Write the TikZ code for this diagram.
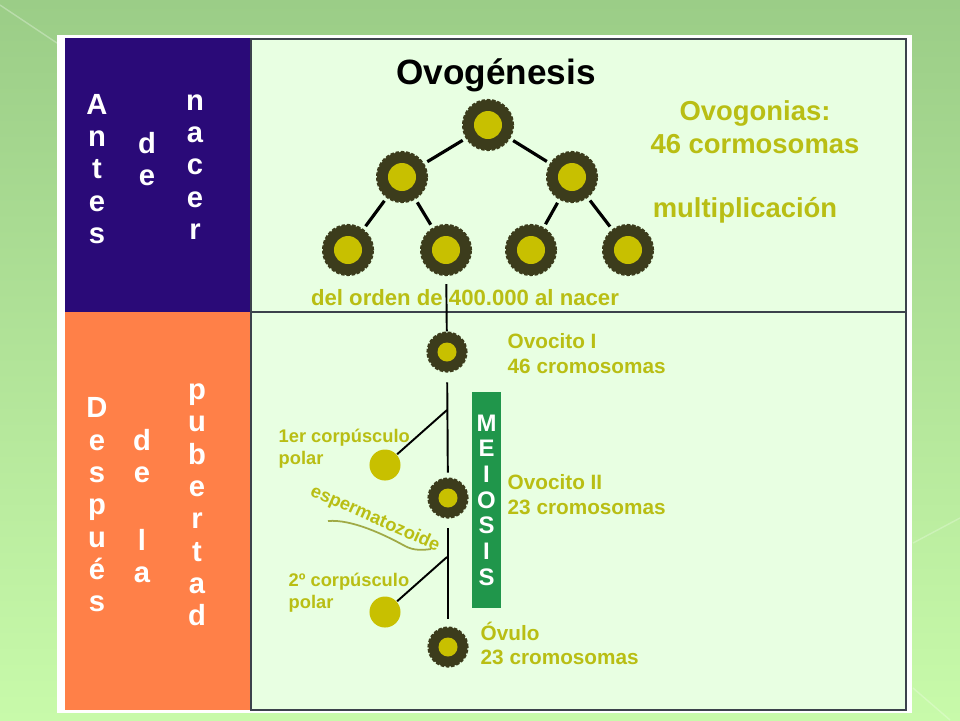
\documentclass[tikz,border=0pt]{standalone}
\usepackage{fontspec}
\setmainfont{Liberation Sans}
\usepackage{xcolor}
\usepackage{tikz}
\usetikzlibrary{positioning,calc}

\definecolor{fondoA}{RGB}{155,205,135}
\definecolor{fondoB}{RGB}{200,250,170}
\definecolor{azulP}{RGB}{42,10,120}
\definecolor{naranjaP}{RGB}{255,128,72}
\definecolor{panelC}{RGB}{232,255,226}
\definecolor{borde}{RGB}{60,66,76}
\definecolor{celosc}{RGB}{60,60,28}
\definecolor{celamar}{RGB}{200,192,0}
\definecolor{textoA}{RGB}{185,190,20}
\definecolor{verdeM}{RGB}{32,150,75}
\definecolor{colaC}{RGB}{160,170,70}

\begin{document}
\begin{tikzpicture}[x=0.01cm, y=-0.01cm,
    % ---------- estilos ----------
    letras/.style={font=\fontsize{8.3}{9.2}\selectfont\bfseries, text=white,
      align=center, inner sep=0pt},
    titulo/.style={font=\fontsize{10}{12}\selectfont\bfseries, text=black, inner sep=0pt},
    etq/.style={font=\fontsize{7.8}{9.4}\selectfont\bfseries, text=textoA,
      align=center, inner sep=0pt},
    etqm/.style={font=\fontsize{6.3}{7.5}\selectfont\bfseries, text=textoA, inner sep=0pt},
    etqo/.style={font=\fontsize{5.9}{7}\selectfont\bfseries, text=textoA,
      align=left, anchor=west, inner sep=0pt},
    etqc/.style={font=\fontsize{5.2}{6.3}\selectfont\bfseries, text=textoA,
      align=left, anchor=west, inner sep=0pt},
    esperma/.style={font=\fontsize{5.2}{6}\selectfont\bfseries, text=textoA, inner sep=0pt},
    celula/.style={circle, minimum size=5mm, inner sep=0pt, fill=celosc,
      draw=celosc, line width=0.6pt, dash pattern=on 1pt off 0.5pt,
      path picture={\fill[celamar] (path picture bounding box.center) circle (1.4mm);}},
    celulap/.style={celula, minimum size=3.9mm,
      path picture={\fill[celamar] (path picture bounding box.center) circle (0.95mm);}},
    corpus/.style={circle, minimum size=3.1mm, inner sep=0pt, fill=celamar},
    meiosis/.style={fill=verdeM, minimum width=2.9mm, minimum height=21.6mm,
      inner sep=0pt, align=center, text=white,
      font=\fontsize{6.8}{7.3}\selectfont\bfseries},
    rama/.style={line width=0.9pt, shorten <=1pt, shorten >=1pt},
    tronco/.style={line width=0.55pt},
    cola/.style={draw=colaC, line width=0.5pt}
]

\useasboundingbox (0,0) rectangle (960,720);

% ====== Fondo ======
\shade[top color=fondoA, bottom color=fondoB] (0,0) rectangle (960,720);
\draw[white, opacity=0.3, line width=0.4pt] (0,5) -- (57,43);
\draw[white, opacity=0.25, line width=0.4pt] (913,543) -- (960,518);
\draw[white, opacity=0.25, line width=0.4pt] (913,688) -- (950,720);

% ====== Marco y paneles ======
\fill[white] (57,35) rectangle (912,713);
\fill[panelC] (251,39) rectangle (906,710);
\fill[azulP] (65,38) rectangle (251,312);
\fill[naranjaP] (65,312) rectangle (251,710);
\draw[borde, line width=0.7pt] (251,39) rectangle (906,710);
\draw[borde, line width=0.7pt] (251,312) -- (906,312);

% ====== Columnas de letras ======
\node[letras] (antes) at (97,169) {A\\n\\t\\e\\s};
\node[letras] (deA) at (147,159) {d\\e};
\node[letras] (nacer) at (195,167) {n\\a\\c\\e\\r};
\node[letras] (despues) at (97,505) {D\\e\\s\\p\\u\\é\\s};
\node[letras] (deB) at (142,506) {d\\e\\[10pt]l\\a};
\node[letras] (pubertad) at (197,505) {p\\u\\b\\e\\r\\t\\a\\d};

% ====== Titulo ======
\node[titulo] (tit) at (496,75) {Ovogénesis};

% ====== Arbol de ovogonias ======
\foreach \n/\x/\y in {o0/488/125, o1/402/177, o2/572/177,
                      o3/348/250, o4/446/250, o5/531/250, o6/628/250}
    \node[celula] (\n) at (\x,\y) {};

\foreach \a/\b in {o0/o1, o0/o2, o1/o3, o1/o4, o2/o5, o2/o6}
    \draw[rama] (\a) -- (\b);

\node[etq] (ovog) at (755,127) {Ovogonias:\\46 cormosomas};
\node[etq] (multi) at (745,210) {multiplicación};
\node[etqm] (orden) at (465,298) {del orden de 400.000 al nacer};

% ====== Linea de ovocitos ======
\node[celulap] (ov1) at (447,352) {};
\node[celulap] (ov2) at (448,498) {};
\node[celulap] (ovu) at (448,647) {};

\draw[tronco, shorten <=2.3pt] (o4) -- (ov1);
\draw[tronco, shorten <=2.8pt, shorten >=1.4pt] (ov1) -- (ov2);
\draw[tronco, shorten <=2.8pt, shorten >=2pt] (ov2) -- (ovu);

\node[etqo] (lov1) at (507,353.5) {Ovocito I\\46 cromosomas};
\node[etqo] (lov2) at (507,494.5) {Ovocito II\\23 cromosomas};
\node[etqo] (lovu) at (480,643.5) {Óvulo\\23 cromosomas};

% ====== Corpusculos polares ======
\coordinate (r1) at (447,410);
\coordinate (r2) at (447,557);
\node[corpus] (pc1) at (385,465) {};
\node[corpus] (pc2) at (385,612) {};
\draw[tronco] (r1) -- (pc1);
\draw[tronco] (r2) -- (pc2);

\node[etqc] (lpc1) at (278,449) {1er corpúsculo\\polar};
\node[etqc] (lpc2) at (288,592.5) {2º corpúsculo\\polar};

% ====== Espermatozoide ======
\node[esperma, rotate=-24] (esp) at (375,519) {espermatozoide};
\draw[cola] (328,521) .. controls (352,519) and (385,535) .. (405,546)
            .. controls (414,551) and (424,550) .. (431,549);

% ====== Barra MEIOSIS ======
\node[meiosis] (mei) at (486.5,500) {M\\E\\I\\O\\S\\I\\S};

\end{tikzpicture}
\end{document}
